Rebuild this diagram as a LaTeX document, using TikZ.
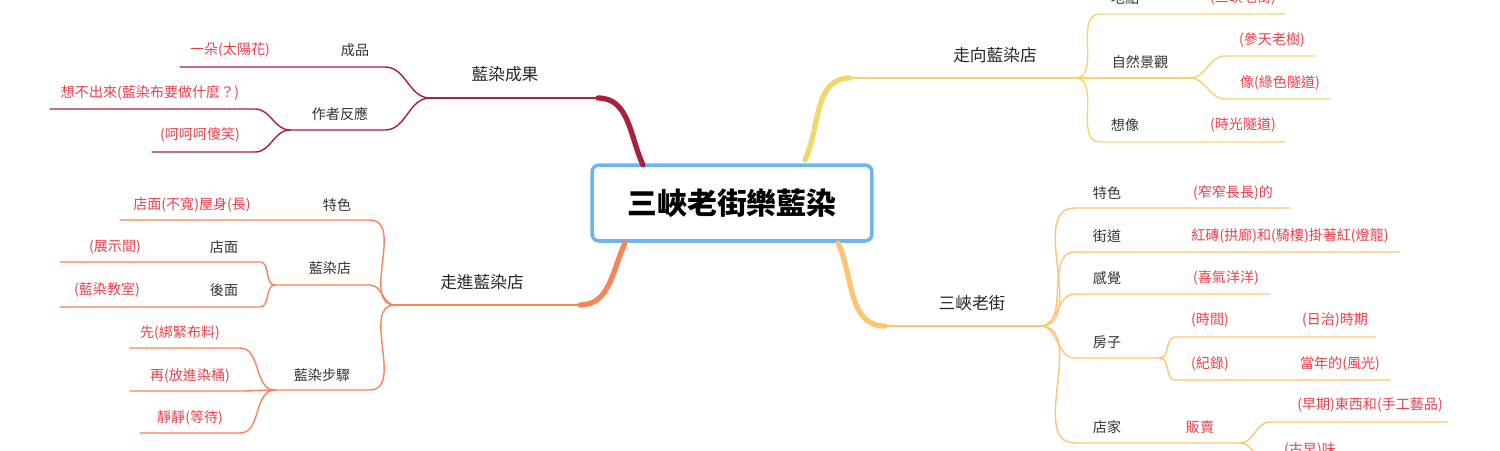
\documentclass[tikz,border=0pt]{standalone}
\usepackage{fontspec}
\setmainfont{Noto Sans CJK TC}
\usetikzlibrary{positioning}
\definecolor{crim}{HTML}{A8203E}
\definecolor{coral}{HTML}{F5845A}
\definecolor{gold}{HTML}{F2D56B}
\definecolor{peach}{HTML}{FFC373}
\definecolor{leafred}{HTML}{E8404A}
\definecolor{boxblue}{HTML}{6BB5F0}
\tikzset{
  lbl/.style={font=\fontsize{8}{9}\selectfont, text=black!80, inner sep=1pt},
  leaf/.style={font=\fontsize{8}{9}\selectfont, text=leafred, inner sep=1pt},
  topic/.style={font=\fontsize{9.5}{11}\selectfont, text=black!85, inner sep=1pt},
  br/.style={line width=0.8pt, line cap=round},
  trunk/.style={line width=3pt, line cap=round},
  sway/.style={out=0, in=180}, % curve going right
  swayl/.style={out=180, in=0}, % curve going left
}
\begin{document}
\begin{tikzpicture}[x=0.02cm, y=-0.02cm]
\useasboundingbox (0,0) rectangle (1500,450);

% central box
\node[draw=boxblue, fill=white, line width=2pt, rounded corners=4pt, minimum width=5.6cm, minimum height=1.52cm, font=\fontsize{17}{20}\selectfont\bfseries] (root) at (732,203) {三峽老街樂藍染};

% ---------- 藍染成果 ----------
\coordinate (a0) at (643,165); \coordinate (a1) at (598,98); \coordinate (a2) at (430,98);
\draw[crim, trunk] (a0) to[out=115, in=0] (a1);
\draw[crim, line width=1.5pt] (a1) -- (a2);
\node[topic] (ach) at (505,74) {藍染成果};
\coordinate (a3) at (385,67); \coordinate (a4) at (180,67);
\draw[crim, br] (a2) to[swayl] (a3) -- (a4);
\node[lbl] (pro) at (355,50) {成品};
\node[leaf] (flw) at (230,50) {一朵(太陽花)};
\coordinate (a5) at (385,130); \coordinate (a6) at (290,130);
\draw[crim, br] (a2) to[swayl] (a5) -- (a6);
\node[lbl] (rea) at (340,114) {作者反應};
\coordinate (a7) at (255,109); \coordinate (a8) at (50,109);
\coordinate (a9) at (255,152); \coordinate (a10) at (152,152);
\draw[crim, br] (a6) to[swayl] (a7) -- (a8);
\draw[crim, br] (a6) to[swayl] (a9) -- (a10);
\node[leaf] (thk) at (150,93) {想不出來(藍染布要做什麼？)};
\node[leaf] (lau) at (200,135) {(呵呵呵傻笑)};

% ---------- 走進藍染店 ----------
\coordinate (b0) at (625,243); \coordinate (b1) at (580,305); \coordinate (b2) at (395,305);
\draw[coral, trunk] (b0) to[out=245, in=0] (b1);
\draw[coral, line width=1.5pt] (b1) -- (b2);
\node[topic] (ent) at (482,282) {走進藍染店};
\coordinate (b3) at (370,220); \coordinate (b4) at (120,220);
\draw[coral, br] (b2) to[swayl] (b3) -- (b4);
\node[lbl] (fea) at (337,205) {特色};
\node[leaf] (fac) at (192,205) {店面(不寬)屋身(長)};
\coordinate (b5) at (370,285); \coordinate (b6) at (275,285);
\draw[coral, br] (b2) to[swayl] (b5) -- (b6);
\node[lbl] (shp) at (330,268) {藍染店};
\coordinate (b7) at (260,262); \coordinate (b8) at (60,262);
\coordinate (b9) at (260,307); \coordinate (b10) at (60,307);
\draw[coral, br] (b6) to[swayl] (b7) -- (b8);
\draw[coral, br] (b6) to[swayl] (b9) -- (b10);
\node[lbl] (frt) at (224,247) {店面};
\node[leaf] (exh) at (115,247) {(展示間)};
\node[lbl] (bck) at (224,290) {後面};
\node[leaf] (cls) at (107,290) {(藍染教室)};
\coordinate (b11) at (370,390); \coordinate (b12) at (275,390);
\draw[coral, br] (b2) to[swayl] (b11) -- (b12);
\node[lbl] (stp) at (322,375) {藍染步驟};
\coordinate (b13) at (240,348); \coordinate (b14) at (130,348);
\coordinate (b15) at (240,391); \coordinate (b16) at (130,391);
\coordinate (b17) at (240,433); \coordinate (b18) at (140,433);
\draw[coral, br] (b12) to[swayl] (b13) -- (b14);
\draw[coral, br] (b12) to[swayl] (b15) -- (b16);
\draw[coral, br] (b12) to[swayl] (b17) -- (b18);
\node[leaf] (st1) at (180,333) {先(綁緊布料)};
\node[leaf] (st2) at (190,376) {再(放進染桶)};
\node[leaf] (st3) at (190,418) {靜靜(等待)};

% ---------- 走向藍染店 ----------
\coordinate (c0) at (805,160); \coordinate (c1) at (850,78); \coordinate (c2) at (1075,78);
\draw[gold, trunk] (c0) to[out=65, in=180] (c1);
\draw[gold, line width=1.5pt] (c1) -- (c2);
\node[topic] (way) at (995,55) {走向藍染店};
\coordinate (c3) at (1100,14); \coordinate (c4) at (1285,14);
\draw[gold, br] (c2) to[sway] (c3) -- (c4);
\node[lbl] (loc) at (1125,-2) {地點};
\node[leaf] (old) at (1243,-2) {(三峽老街)};
\coordinate (c5) at (1190,78);
\draw[gold, br] (c2) -- (c5);
\node[lbl] (nat) at (1140,62) {自然景觀};
\coordinate (c6) at (1225,56); \coordinate (c7) at (1315,56);
\coordinate (c8) at (1225,99); \coordinate (c9) at (1330,99);
\draw[gold, br] (c5) to[sway] (c6) -- (c7);
\draw[gold, br] (c5) to[sway] (c8) -- (c9);
\node[leaf] (tre) at (1272,40) {(參天老樹)};
\node[leaf] (tun) at (1280,83) {像(綠色隧道)};
\coordinate (c10) at (1100,142); \coordinate (c11) at (1285,142);
\draw[gold, br] (c2) to[sway] (c10) -- (c11);
\node[lbl] (ima) at (1125,125) {想像};
\node[leaf] (tim) at (1243,125) {(時光隧道)};

% ---------- 三峽老街 ----------
\coordinate (d0) at (838,243); \coordinate (d1) at (885,326); \coordinate (d2) at (1040,326);
\draw[peach, trunk] (d0) to[out=295, in=180] (d1);
\draw[peach, line width=1.5pt] (d1) -- (d2);
\node[topic] (str) at (972,303) {三峽老街};
\coordinate (d3) at (1075,208); \coordinate (d4) at (1290,208);
\draw[peach, br] (d2) to[sway] (d3) -- (d4);
\node[lbl] (sfe) at (1107,193) {特色};
\node[leaf] (nar) at (1233,193) {(窄窄長長)的};
\coordinate (d5) at (1075,252); \coordinate (d6) at (1400,252);
\draw[peach, br] (d2) to[sway] (d5) -- (d6);
\node[lbl] (rd) at (1107,236) {街道};
\node[leaf] (brk) at (1290,236) {紅磚(拱廊)和(騎樓)掛著紅(燈籠)};
\coordinate (d7) at (1075,294); \coordinate (d8) at (1270,294);
\draw[peach, br] (d2) to[sway] (d7) -- (d8);
\node[lbl] (fel) at (1107,278) {感覺};
\node[leaf] (joy) at (1226,278) {(喜氣洋洋)};
\coordinate (d9) at (1075,358); \coordinate (d10) at (1160,358);
\draw[peach, br] (d2) to[sway] (d9) -- (d10);
\node[lbl] (hse) at (1107,342) {房子};
\coordinate (d11) at (1175,337); \coordinate (d12) at (1375,337);
\coordinate (d13) at (1175,380); \coordinate (d14) at (1390,380);
\draw[peach, br] (d10) to[sway] (d11) -- (d12);
\draw[peach, br] (d10) to[sway] (d13) -- (d14);
\node[leaf] (per) at (1210,320) {(時間)};
\node[leaf] (jap) at (1335,320) {(日治)時期};
\node[leaf] (rec) at (1210,364) {(紀錄)};
\node[leaf] (glo) at (1340,364) {當年的(風光)};
\coordinate (d15) at (1075,443); \coordinate (d16) at (1240,443);
\draw[peach, br] (d2) to[sway] (d15) -- (d16);
\node[lbl] (sto) at (1107,427) {店家};
\node[leaf] (sel) at (1200,427) {販賣};
\coordinate (d17) at (1270,422); \coordinate (d18) at (1448,422);
\coordinate (d19) at (1270,466); \coordinate (d20) at (1400,466);
\draw[peach, br] (d16) to[sway] (d17) -- (d18);
\draw[peach, br] (d16) to[sway] (d19) -- (d20);
\node[leaf] (crf) at (1370,405) {(早期)東西和(手工藝品)};
\node[leaf] (tst) at (1310,450) {(古早)味};
\end{tikzpicture}
\end{document}
